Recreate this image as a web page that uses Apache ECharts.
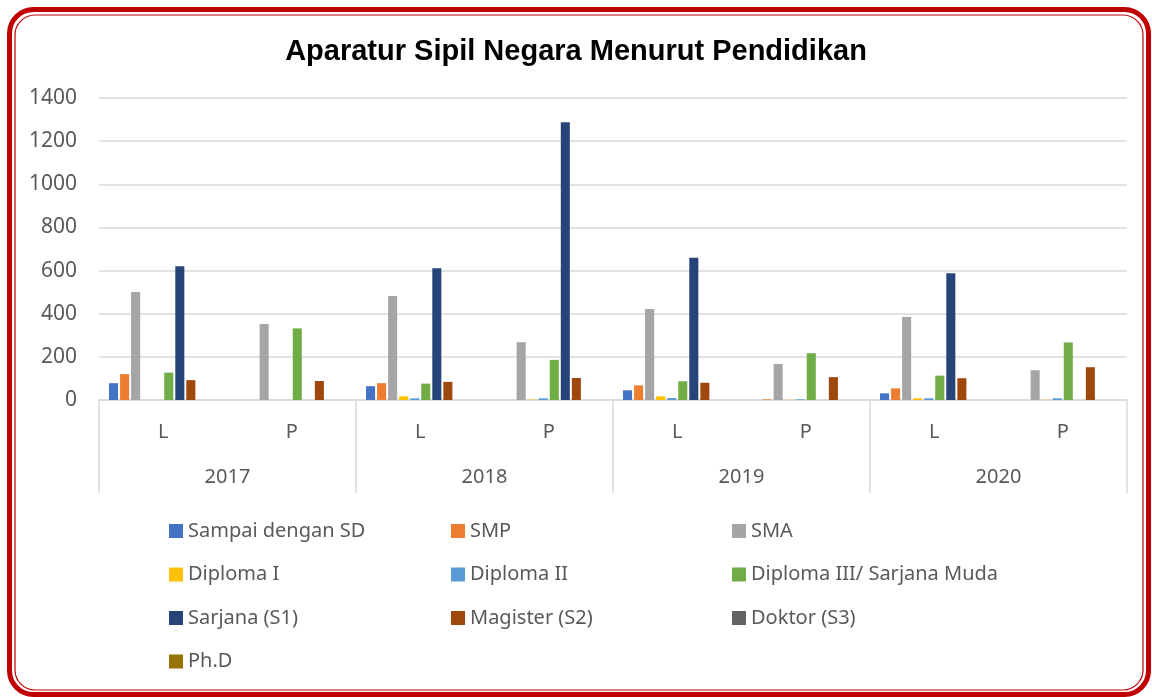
<!DOCTYPE html>
<html>
<head>
<meta charset="utf-8">
<title>Aparatur Sipil Negara Menurut Pendidikan</title>
<script src="https://cdn.jsdelivr.net/npm/echarts@6.0.0/dist/echarts.min.js"></script>
<style>
  html, body { margin: 0; padding: 0; background: #fff; }
  #chart { width: 1152px; height: 697px; }
</style>
</head>
<body>
<div id="chart"></div>
<script>
// categories: gender inside each year
var years = ['2017', '2018', '2019', '2020']
var genders = ['L', 'P', 'L', 'P', 'L', 'P', 'L', 'P']

// order of each series: 2017 L, 2017 P, 2018 L, 2018 P, ...
var sampaiSD = [78, 0, 64, 0, 45, 0, 31, 0]
var smp = [120, 0, 78, 0, 68, 3, 54, 0]
var sma = [501, 352, 482, 268, 422, 167, 385, 138]
var diploma1 = [0, 0, 17, 2, 17, 1, 8, 1]
var diploma2 = [0, 0, 8, 8, 9, 3, 8, 8]
var diploma3 = [127, 332, 76, 186, 87, 217, 113, 267]
var sarjana = [620, 0, 611, 1288, 659, 0, 588, 0]
var magister = [92, 88, 84, 102, 80, 106, 101, 152]
var doktor = [0, 0, 0, 0, 0, 0, 0, 0]
var phd = [0, 0, 0, 0, 0, 0, 0, 0]

var yTicks = [0, 1400, 200]

var SERIES = [
  { name: 'Sampai dengan SD', data: sampaiSD, color: '#4472C4' },
  { name: 'SMP', data: smp, color: '#ED7D31' },
  { name: 'SMA', data: sma, color: '#A5A5A5' },
  { name: 'Diploma I', data: diploma1, color: '#FFC000' },
  { name: 'Diploma II', data: diploma2, color: '#5B9BD5' },
  { name: 'Diploma III/ Sarjana Muda', data: diploma3, color: '#70AD47' },
  { name: 'Sarjana (S1)', data: sarjana, color: '#264478' },
  { name: 'Magister (S2)', data: magister, color: '#9E480E' },
  { name: 'Doktor (S3)', data: doktor, color: '#636363' },
  { name: 'Ph.D', data: phd, color: '#997300' }
]

var FONT = 'Noto Sans'
var TEXT = '#595959'
var LINE = '#d9d9d9'

function legendColumn(left, names) {
  return {
    orient: 'vertical',
    left: left,
    top: 520,
    padding: 0,
    icon: 'rect',
    itemWidth: 14,
    itemHeight: 14,
    itemGap: 21.5,
    selectedMode: false,
    data: names,
    textStyle: { color: TEXT, fontSize: 20, fontFamily: FONT, lineHeight: 22 }
  }
}

var chart = echarts.init(document.getElementById('chart'))

var option = {
  animation: false,
  title: {
    text: 'Aparatur Sipil Negara Menurut Pendidikan',
    left: 'center',
    top: 32,
    textStyle: { color: '#000', fontSize: 29, fontWeight: 'bold', fontFamily: 'Liberation Sans' }
  },
  graphic: [
    {
      type: 'rect',
      shape: { x: 9.5, y: 9.5, width: 1139, height: 685, r: 24 },
      style: { fill: 'none', stroke: '#C00000', lineWidth: 5 },
      silent: true
    },
    {
      type: 'rect',
      shape: { x: 15, y: 15, width: 1128, height: 675, r: 20 },
      style: { fill: 'none', stroke: '#C00000', lineWidth: 1.2 },
      silent: true
    }
  ],
  legend: [
    legendColumn(169, ['Sampai dengan SD', 'Diploma I', 'Sarjana (S1)', 'Ph.D']),
    legendColumn(451, ['SMP', 'Diploma II', 'Magister (S2)']),
    legendColumn(732, ['SMA', 'Diploma III/ Sarjana Muda', 'Doktor (S3)'])
  ],
  grid: { left: 99, right: 25, top: 98, bottom: 297 },
  xAxis: [
    {
      type: 'category',
      data: genders,
      position: 'bottom',
      axisLine: { show: true, lineStyle: { color: LINE, width: 1.5 } },
      axisTick: { show: false },
      axisLabel: { color: TEXT, fontSize: 20, fontFamily: FONT, margin: 22, interval: 0 }
    },
    {
      type: 'category',
      data: years,
      position: 'bottom',
      axisLine: { show: false },
      axisTick: { show: true, length: 93, interval: 0, lineStyle: { color: LINE, width: 1.5 } },
      axisLabel: { color: TEXT, fontSize: 20, fontFamily: FONT, margin: 67, interval: 0 }
    }
  ],
  yAxis: {
    type: 'value',
    min: yTicks[0],
    max: yTicks[1],
    interval: yTicks[2],
    axisLine: { show: false },
    axisTick: { show: false },
    axisLabel: {
      color: TEXT, fontSize: 21, fontFamily: FONT, margin: 22,
      formatter: function (v) { return String(v) }
    },
    splitLine: { lineStyle: { color: LINE, width: 1.5 } }
  },
  series: SERIES.map(function (s) {
    return {
      name: s.name,
      type: 'bar',
      xAxisIndex: 0,
      data: s.data,
      barGap: '22%',
      barCategoryGap: '15.6%',
      itemStyle: { color: s.color }
    }
  })
}

chart.setOption(option)
</script>
</body>
</html>
